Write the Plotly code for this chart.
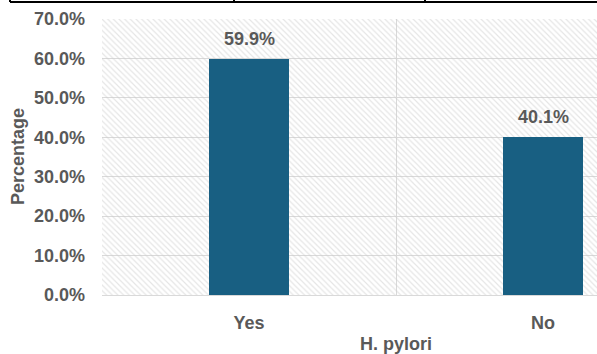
import plotly.graph_objects as go

categories = ["Yes", "No"]
values = [0.599, 0.401]
y_ticks = [0.0, 0.1, 0.2, 0.3, 0.4, 0.5, 0.6, 0.7]
x_title = "H. pylori"
y_title = "Percentage"

W, H = 597, 354
L, R, T, B = 102, 0, 19, 59
plot_w = W - L - R
plot_h = H - T - B

bar_color = "#185f82"
text_color = "#595959"
grid_color = "#d9d9d9"
font_family = "Liberation Sans, Arial, sans-serif"
fs = 18

x_pos = list(range(len(categories)))
band_px = 294
x_lo = -0.5
x_hi = x_lo + plot_w / band_px
y_max = y_ticks[-1]

fig = go.Figure()

# hatched background of the plot area
fig.add_trace(go.Bar(
    x=[(x_lo + x_hi) / 2], y=[y_max], width=[x_hi - x_lo], base=0,
    marker=dict(color="rgba(0,0,0,0)", line=dict(width=0),
                pattern=dict(shape="\\", size=4, solidity=0.3,
                             fgcolor="#cccccc", bgcolor="rgba(0,0,0,0)",
                             fillmode="overlay")),
    hoverinfo="skip", showlegend=False,
))

fig.add_trace(go.Bar(
    x=x_pos, y=values, width=80 / band_px,
    marker=dict(color=bar_color, line=dict(width=0)),
    showlegend=False,
))

for xp, v in zip(x_pos, values):
    fig.add_annotation(x=xp, y=v, xref="x", yref="y", text=f"<b>{v*100:.1f}%</b>",
                       showarrow=False, yanchor="bottom", yshift=8,
                       font=dict(family=font_family, size=fs, color=text_color))

fig.add_annotation(x=0.5, xref="x", y=(295 - 344) / plot_h, yref="paper",
                   text=f"<b>{x_title}</b>", showarrow=False, yanchor="middle",
                   font=dict(family=font_family, size=fs, color=text_color))
fig.add_annotation(x=(18 - L) / plot_w, xref="paper", y=0.5, yref="paper",
                   text=f"<b>{y_title}</b>", showarrow=False, textangle=-90,
                   xanchor="center", yanchor="middle",
                   font=dict(family=font_family, size=fs, color=text_color))

# cropped table border fragment at the top of the image
def px_x(p):
    return (p - L) / plot_w

def px_y(p):
    return (H - B - p) / plot_h

line = dict(color="black", width=2)
fig.add_shape(type="line", xref="paper", yref="paper", x0=px_x(10), x1=px_x(600),
              y0=px_y(2), y1=px_y(2), line=line)
for vx in [10, 234, 425]:
    fig.add_shape(type="line", xref="paper", yref="paper", x0=px_x(vx), x1=px_x(vx),
                  y0=px_y(-2), y1=px_y(2), line=line)

fig.update_layout(
    width=W, height=H,
    margin=dict(l=L, r=R, t=T, b=B, autoexpand=False),
    paper_bgcolor="white", plot_bgcolor="white",
    barmode="overlay", bargap=0,
    showlegend=False,
    font=dict(family=font_family, color=text_color),
)
fig.update_xaxes(
    range=[x_lo, x_hi], tickvals=x_pos, ticktext=[f"<b>{c}</b>" for c in categories],
    showgrid=False, zeroline=False, ticks="",
    tickfont=dict(family=font_family, size=fs, color=text_color),
    ticklabelstandoff=11,
    showline=True, linecolor=grid_color, linewidth=1,
    minor=dict(tickvals=[-0.5, 0.5, 1.5], showgrid=True, gridcolor=grid_color, gridwidth=1, ticks=""),
    fixedrange=True,
)
fig.update_yaxes(
    range=[0, y_max], tickvals=y_ticks, ticktext=[f"<b>{t*100:.1f}%</b>" for t in y_ticks],
    showgrid=True, gridcolor=grid_color, gridwidth=1, zeroline=False, ticks="",
    tickfont=dict(family=font_family, size=fs, color=text_color),
    ticklabelstandoff=16,
    fixedrange=True,
)

fig.write_html("out.html")
